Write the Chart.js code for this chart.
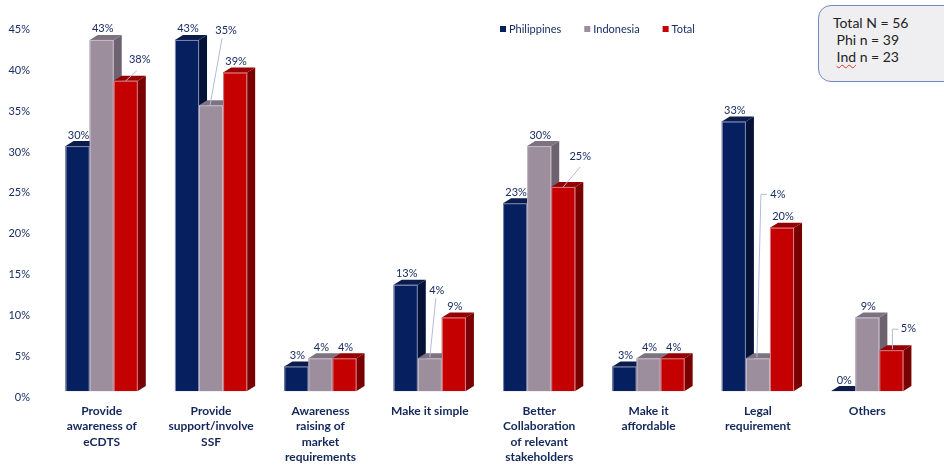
<!DOCTYPE html>
<html>
<head>
<meta charset="utf-8">
<script src="https://cdn.jsdelivr.net/npm/chart.js@4.4.1/dist/chart.umd.min.js"></script>
<style>
  html, body { margin: 0; padding: 0; background: #ffffff; }
  #wrap { position: relative; width: 944px; height: 468px; overflow: hidden; }
  #c { position: absolute; left: 0; top: 0; }
  .nbox {
    position: absolute; left: 818px; top: 5px; width: 150px; height: 77px;
    box-sizing: border-box; border: 1.5px solid #7189c6; border-radius: 13px;
    background: #efeff1; font-family: Lato, "Open Sans", sans-serif; font-size: 14px;
    color: #222222; line-height: 17px; padding: 8px 0 0 14px;
  }
  .nbox .ind { text-decoration: underline wavy #e03030; text-decoration-thickness: 1px; text-underline-offset: 2px; }
</style>
</head>
<body>
<div id="wrap">
  <canvas id="c" width="944" height="468"></canvas>
  <div class="nbox">Total N = 56<br>&nbsp;Phi n = 39<br>&nbsp;<span class="ind">Ind</span> n = 23</div>
</div>
<script>
// Survey answers: share of respondents (%) per suggestion
const categories = [
  ['Provide', 'awareness of', 'eCDTS'],
  ['Provide', 'support/involve', 'SSF'],
  ['Awareness', 'raising of', 'market', 'requirements'],
  ['Make it simple'],
  ['Better', 'Collaboration', 'of relevant', 'stakeholders'],
  ['Make it', 'affordable'],
  ['Legal', 'requirement'],
  ['Others']
];
const philippines = [30, 43, 3, 13, 23, 3, 33, 0];
const indonesia   = [43, 35, 4, 4, 30, 4, 4, 9];
const total       = [38, 39, 4, 9, 25, 4, 20, 5];
const yTicks = [0, 5, 10, 15, 20, 25, 30, 35, 40, 45];

const seriesNames = ['Philippines', 'Indonesia', 'Total'];
const NAVY = '#1a2e66';
const NAVY_DARK = '#14275a';

// face colours for the extruded bars: front / side / top
const faces = [
  { front: '#06205f', side: '#041238', top: '#0a1c4c' },
  { front: '#9d8e9e', side: '#6c6270', top: '#7c7280' },
  { front: '#c40000', side: '#780000', top: '#960000' }
];
const DEPTH_X = 8, DEPTH_Y = 5;

// labels that sit away from their bar, joined by a thin leader line
// key: "dataset:category" -> label offset and leader points, relative to the bar's front top
const callouts = {
  '2:0': { tx: 14, ty: -21, line: [[0, 0], [11, -10]] },
  '1:1': { tx: 15, ty: -75, line: [[-1, 0], [11, -67]] },
  '1:3': { tx: 7, ty: -68, line: [[0, -1], [6, -60]] },
  '2:4': { tx: 17, ty: -30, line: [[0, 0], [17, -20]] },
  '1:6': { tx: 20, ty: -164, line: [[-1, -1], [3, -164], [9, -164]] },
  '2:7': { tx: 17, ty: -22, line: [[1, -1], [1, -21], [7, -21]] }
};

function poly(ctx, pts, fill) {
  ctx.beginPath();
  ctx.moveTo(pts[0][0], pts[0][1]);
  for (let k = 1; k < pts.length; k++) ctx.lineTo(pts[k][0], pts[k][1]);
  ctx.closePath();
  ctx.fillStyle = fill;
  ctx.fill();
}

const bar3d = {
  id: 'bar3d',
  afterDatasetsDraw(chart) {
    const ctx = chart.ctx;
    const metas = chart.data.datasets.map((d, i) => chart.getDatasetMeta(i));
    const n = chart.data.labels.length;
    ctx.save();
    for (let j = 0; j < n; j++) {
      metas.forEach((meta, i) => {
        const el = meta.data[j];
        const p = el.getProps(['x', 'y', 'base', 'width'], true);
        const l = p.x - p.width / 2, r = p.x + p.width / 2;
        const f = faces[i];
        poly(ctx, [[r, p.y], [r + DEPTH_X, p.y - DEPTH_Y], [r + DEPTH_X, p.base - DEPTH_Y], [r, p.base]], f.side);
        poly(ctx, [[l, p.y], [l + DEPTH_X, p.y - DEPTH_Y], [r + DEPTH_X, p.y - DEPTH_Y], [r, p.y]], f.top);
        ctx.fillStyle = f.front;
        ctx.fillRect(l, p.y, p.width, p.base - p.y);
        ctx.strokeStyle = 'rgba(235,225,240,0.55)';
        ctx.lineWidth = 1;
        ctx.strokeRect(l + 0.5, p.y + 0.5, p.width - 1, p.base - p.y);
      });
    }
    // value labels
    ctx.font = '11px Lato, "Open Sans", sans-serif';
    ctx.textAlign = 'center';
    ctx.textBaseline = 'middle';
    metas.forEach((meta, i) => {
      meta.data.forEach((el, j) => {
        const p = el.getProps(['x', 'y'], true);
        const v = chart.data.datasets[i].data[j];
        const c = callouts[i + ':' + j];
        let lx = p.x + 1, ly = p.y - 11;
        if (c) {
          lx = p.x + c.tx; ly = p.y + c.ty;
          ctx.beginPath();
          ctx.strokeStyle = '#b5b8dd';
          ctx.lineWidth = 1;
          c.line.forEach((pt, k) => {
            const X = p.x + pt[0], Y = p.y + pt[1];
            if (k === 0) ctx.moveTo(X, Y); else ctx.lineTo(X, Y);
          });
          ctx.stroke();
        }
        ctx.fillStyle = NAVY;
        ctx.fillText(v + '%', lx, ly);
      });
    });
    ctx.restore();
  },
  afterDraw(chart) {
    // legend row
    const ctx = chart.ctx;
    ctx.save();
    ctx.font = '11px Lato, "Open Sans", sans-serif';
    ctx.textBaseline = 'middle';
    ctx.textAlign = 'left';
    let x = 500;
    const y = 29;
    chart.data.datasets.forEach((ds, i) => {
      ctx.fillStyle = faces[i].front;
      ctx.fillRect(x, y - 3, 6, 6);
      ctx.fillStyle = NAVY;
      ctx.fillText(ds.label, x + 9, y);
      x += 9 + ctx.measureText(ds.label).width + 23;
    });
    ctx.restore();
  }
};

const datasets = [philippines, indonesia, total].map((vals, i) => ({
  label: seriesNames[i],
  data: vals,
  backgroundColor: faces[i].front,
  borderWidth: 0,
  categoryPercentage: 0.66,
  barPercentage: 1.0
}));

new Chart(document.getElementById('c'), {
  type: 'bar',
  data: { labels: categories, datasets },
  options: {
    responsive: false,
    animation: false,
    layout: { padding: { top: 22, right: 22, left: 0, bottom: 0 } },
    plugins: { legend: { display: false }, tooltip: { enabled: false } },
    scales: {
      x: {
        grid: { display: false, drawTicks: false },
        border: { display: false },
        ticks: {
          color: NAVY_DARK,
          font: { family: 'Lato, "Open Sans", sans-serif', size: 12, weight: 'bold', lineHeight: 1.3 },
          padding: 12,
          maxRotation: 0,
          autoSkip: false
        },
        afterFit(scale) { scale.height = 77; }
      },
      y: {
        min: 0,
        max: 45,
        afterBuildTicks(scale) { scale.ticks = yTicks.map(v => ({ value: v })); },
        grid: { display: false, drawTicks: false },
        border: { display: false },
        ticks: {
          color: NAVY,
          font: { family: 'Lato, "Open Sans", sans-serif', size: 11 },
          padding: 17,
          labelOffset: 6,
          callback: v => v + '%'
        },
        afterFit(scale) { scale.width = 47; }
      }
    }
  },
  plugins: [bar3d]
});
</script>
</body>
</html>
